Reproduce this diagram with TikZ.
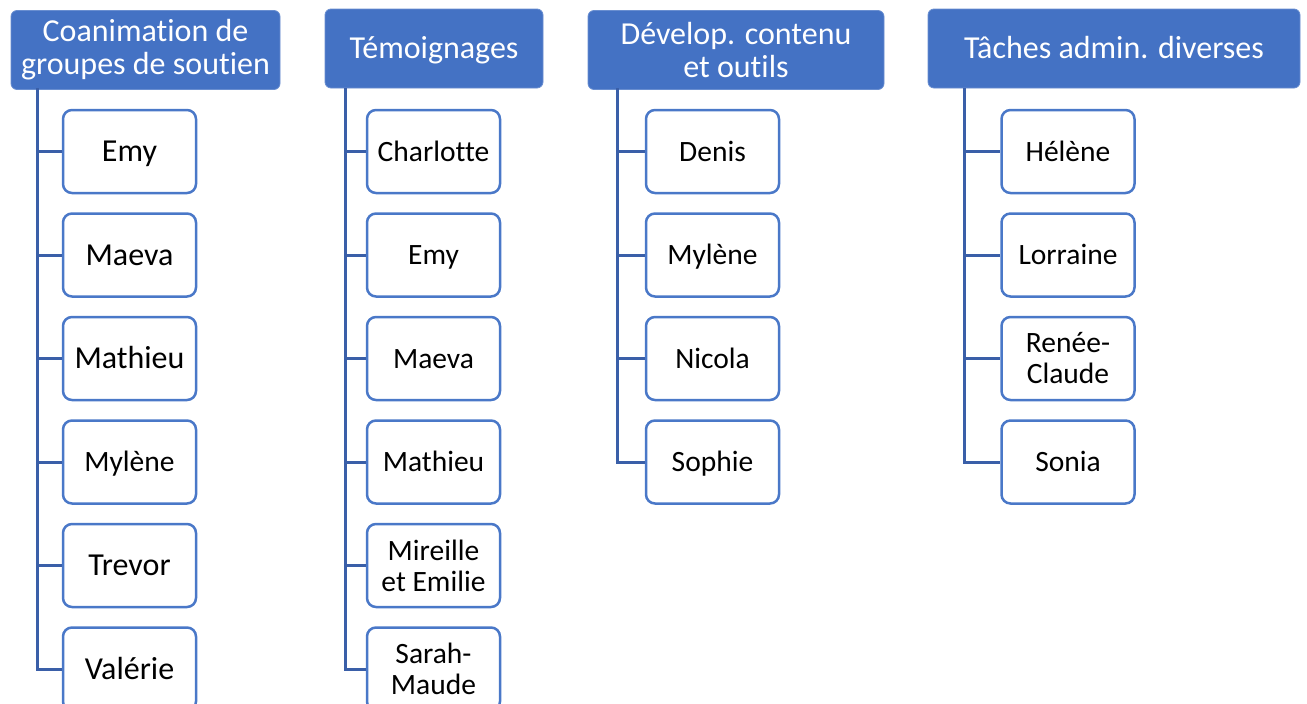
\documentclass[tikz,border=0pt]{standalone}
\usepackage{fontspec}
\setmainfont{Carlito}[Ligatures=NoCommon]
\definecolor{hdr}{HTML}{4472C4}
\definecolor{lin}{HTML}{3A5FA8}
\definecolor{brd}{HTML}{4A78C8}
\begin{document}
\begin{tikzpicture}[x=1pt,y=-1pt,
  hdrbox/.style={fill=hdr, draw=hdr!80!white, line width=0.8pt, rounded corners=6pt, text=white, align=center, inner sep=0pt, minimum height=79pt},
  kid/.style={draw=brd, line width=2.5pt, fill=white, rounded corners=9pt, align=center, inner sep=0pt, minimum width=133pt, minimum height=83pt},
  big/.style={font=\fontsize{32}{33}\selectfont},
  med/.style={font=\fontsize{29.5}{31}\selectfont},
  bigone/.style={big, text height=20.5pt, text depth=0pt},
  medone/.style={med, text height=19pt, text depth=0pt},
  link/.style={draw=lin, line width=3pt}]
\useasboundingbox (0,0) rectangle (1307,704);
\clip (0,0) rectangle (1307,704);
% headers
\node[hdrbox, big, minimum width=269pt] (h1) at (145.5,50) {Coanimation de\\groupes de soutien};
\node[hdrbox, bigone, minimum width=218pt] (h2) at (434,48.5) {Témoignages};
\node[hdrbox, big, minimum width=296pt] (h3) at (736,50) {Dévelop. contenu\\et outils};
\node[hdrbox, bigone, minimum width=372pt] (h4) at (1114,48.5) {Tâches admin. diverses};
% trunk tops
\coordinate (t1) at (37,88);
\coordinate (t2) at (345.5,88);
\coordinate (t3) at (617,88);
\coordinate (t4) at (964.5,88);
% column 1
\node[kid, bigone] (a1) at (129.5,151.5) {Emy};
\node[kid, bigone] (a2) at (129.5,255) {Maeva};
\node[kid, bigone] (a3) at (129.5,358.5) {Mathieu};
\node[kid, medone] (a4) at (129.5,462) {Mylène};
\node[kid, bigone] (a5) at (129.5,565.5) {Trevor};
\node[kid, bigone] (a6) at (129.5,669) {Valérie};
% column 2
\node[kid, medone] (b1) at (433.5,151.5) {Charlotte};
\node[kid, medone] (b2) at (433.5,255) {Emy};
\node[kid, medone] (b3) at (433.5,358.5) {Maeva};
\node[kid, medone] (b4) at (433.5,462) {Mathieu};
\node[kid, med] (b5) at (433.5,565.5) {Mireille\\et Emilie};
\node[kid, med] (b6) at (433.5,669) {Sarah-\\Maude};
% column 3
\node[kid, medone] (c1) at (712.5,151.5) {Denis};
\node[kid, medone] (c2) at (712.5,255) {Mylène};
\node[kid, medone] (c3) at (712.5,358.5) {Nicola};
\node[kid, medone] (c4) at (712.5,462) {Sophie};
% column 4
\node[kid, medone] (d1) at (1068,151.5) {Hélène};
\node[kid, medone] (d2) at (1068,255) {Lorraine};
\node[kid, med] (d3) at (1068,358.5) {Renée-\\Claude};
\node[kid, medone] (d4) at (1068,462) {Sonia};
% connectors
\foreach \k in {a1,a2,a3,a4,a5,a6} \draw[link] (t1) |- (\k.west);
\foreach \k in {b1,b2,b3,b4,b5,b6} \draw[link] (t2) |- (\k.west);
\foreach \k in {c1,c2,c3,c4} \draw[link] (t3) |- (\k.west);
\foreach \k in {d1,d2,d3,d4} \draw[link] (t4) |- (\k.west);
\end{tikzpicture}
\end{document}
